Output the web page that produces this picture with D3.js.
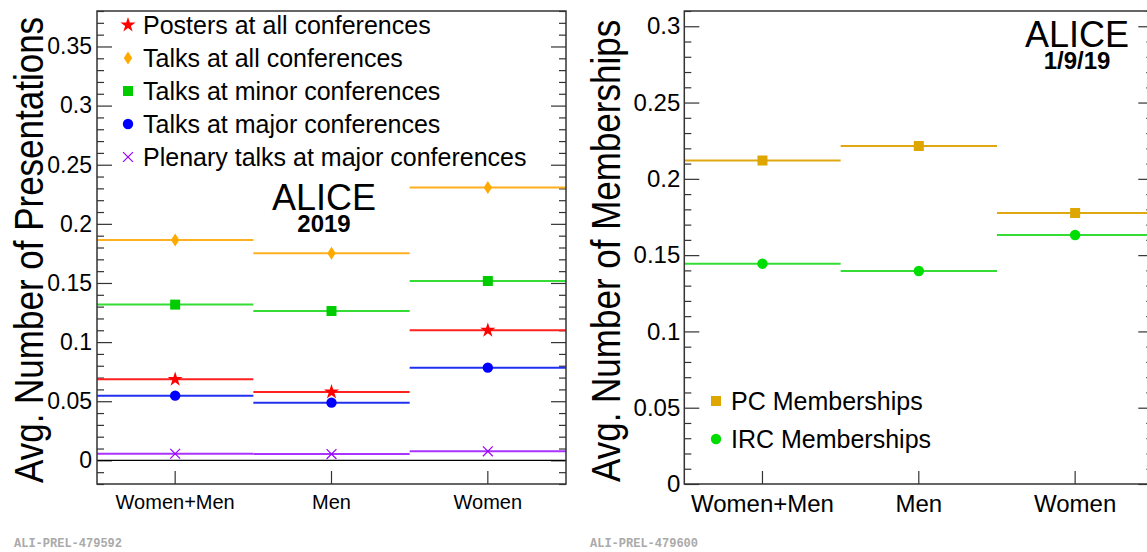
<!DOCTYPE html>
<html>
<head>
<meta charset="utf-8">
<script src="https://cdn.jsdelivr.net/npm/d3@7"></script>
<style>
  body { margin: 0; background: #fff; }
  svg { display: block; font-family: "Liberation Sans", Arial, sans-serif; }
  .frame { fill: none; stroke: #333; stroke-width: 1.5; }
  .axis path { display: none; }
  .axis line { stroke: #333; stroke-width: 1.2; }
  .axis text { fill: #000; font-family: "Liberation Sans", Arial, sans-serif; }
</style>
</head>
<body>
<div id="chart"></div>
<script>
// categories
const groups = ['Women+Men', 'Men', 'Women'];

// left panel: avg. number of presentations (2019)
const postersAll   = [0.0685, 0.0578, 0.1100];
const talksAll     = [0.1864, 0.1752, 0.2307];
const talksMinor   = [0.1317, 0.1263, 0.1517];
const talksMajor   = [0.0547, 0.0488, 0.0784];
const plenaryMajor = [0.0056, 0.0053, 0.0076];

// right panel: avg. number of memberships (1/9/19)
const pcMemberships  = [0.2120, 0.2216, 0.1776];
const ircMemberships = [0.1444, 0.1396, 0.1632];

// tick labels
const leftTicks  = [0, 0.05, 0.1, 0.15, 0.2, 0.25, 0.3, 0.35];
const rightTicks = [0, 0.05, 0.1, 0.15, 0.2, 0.25, 0.3];

const W = 1147, H = 552;
const svg = d3.select('#chart').append('svg')
  .attr('width', W).attr('height', H);
svg.append('rect').attr('width', W).attr('height', H).attr('fill', '#fff');

const fmt = d => String(+d.toFixed(2));

// symbol helpers
const sym = (type, size) => d3.symbol().type(type).size(size)();
const diamond = 'M0,-6.5L4.2,0L0,6.5L-4.2,0Z';

const leftSeries = [
  { name: 'Posters at all conferences', values: postersAll, line: '#ff2020', color: '#ff0000', shape: sym(d3.symbolStar, 70) },
  { name: 'Talks at all conferences', values: talksAll, line: '#ffb020', color: '#ffaa00', shape: diamond },
  { name: 'Talks at minor conferences', values: talksMinor, line: '#33dd33', color: '#00cc00', shape: sym(d3.symbolSquare, 100) },
  { name: 'Talks at major conferences', values: talksMajor, line: '#2030ee', color: '#0000ff', shape: sym(d3.symbolCircle, 85) },
  { name: 'Plenary talks at major conferences', values: plenaryMajor, line: '#aa33ff', color: '#9900ff', shape: sym(d3.symbolX, 65), stroke: true }
];

const rightSeries = [
  { name: 'PC Memberships', values: pcMemberships, line: '#e0a810', color: '#dda600', shape: sym(d3.symbolSquare, 100) },
  { name: 'IRC Memberships', values: ircMemberships, line: '#33dd33', color: '#00dd00', shape: sym(d3.symbolCircle, 85) }
];

function drawMarker(g, s, x, y) {
  const p = g.append('path').attr('d', s.shape)
    .attr('transform', 'translate(' + x + ',' + y + ')');
  if (s.stroke) p.attr('fill', 'none').attr('stroke', s.color).attr('stroke-width', 1.2);
  else p.attr('fill', s.color);
}

function drawPanel(opt) {
  const g = svg.append('g');
  const x = d3.scaleBand().domain(groups).range([opt.x0, opt.x1]).paddingInner(0).paddingOuter(0);
  const y = d3.scaleLinear().domain(opt.domain).range([opt.y1, opt.y0]);

  const clip = 'clip-' + opt.id;
  svg.append('clipPath').attr('id', clip)
    .append('rect').attr('x', opt.x0).attr('y', opt.y0)
    .attr('width', opt.x1 - opt.x0).attr('height', opt.y1 - opt.y0);

  // minor ticks every 0.01
  const minor = d3.range(Math.round(opt.domain[0] * 100), Math.round(opt.domain[1] * 100) + 1)
    .map(d => d / 100).filter(d => !opt.ticks.some(t => Math.abs(t - d) < 1e-9));

  g.append('g').attr('class', 'axis').attr('transform', 'translate(' + opt.x0 + ',0)')
    .call(d3.axisLeft(y).tickValues(minor).tickSize(-7).tickFormat(''));
  g.append('g').attr('class', 'axis').attr('transform', 'translate(' + opt.x1 + ',0)')
    .call(d3.axisRight(y).tickValues(minor).tickSize(-7).tickFormat(''));
  g.append('g').attr('class', 'axis').attr('transform', 'translate(' + opt.x1 + ',0)')
    .call(d3.axisRight(y).tickValues(opt.ticks).tickSize(-15).tickFormat(''));
  g.append('g').attr('class', 'axis').attr('transform', 'translate(' + opt.x0 + ',0)')
    .call(d3.axisLeft(y).tickValues(opt.ticks).tickSize(-15).tickPadding(opt.tickPad).tickFormat(fmt))
    .selectAll('text').style('font-size', opt.tickFont + 'px');

  // x axis
  g.append('g').attr('class', 'axis').attr('transform', 'translate(0,' + opt.y1 + ')')
    .call(d3.axisBottom(x).tickSize(-13).tickPadding(opt.xPad))
    .selectAll('text').style('font-size', opt.xFont + 'px');

  // zero line
  if (opt.domain[0] < 0) {
    g.append('line').attr('x1', opt.x0).attr('x2', opt.x1)
      .attr('y1', y(0)).attr('y2', y(0))
      .attr('stroke', '#000').attr('stroke-width', 1.2);
  }

  // series: horizontal bin lines + markers
  const marks = g.append('g').attr('clip-path', 'url(#' + clip + ')');
  opt.series.forEach(s => {
    s.values.forEach((v, i) => {
      marks.append('line')
        .attr('x1', x(groups[i])).attr('x2', x(groups[i]) + x.bandwidth())
        .attr('y1', y(v)).attr('y2', y(v))
        .attr('stroke', s.line).attr('stroke-width', 2);
    });
  });
  opt.series.forEach(s => {
    s.values.forEach((v, i) => drawMarker(marks, s, x(groups[i]) + x.bandwidth() / 2, y(v)));
  });

  // frame
  g.append('rect').attr('class', 'frame')
    .attr('x', opt.x0).attr('y', opt.y0)
    .attr('width', opt.x1 - opt.x0).attr('height', opt.y1 - opt.y0);

  // y title (a bit taller than wide, like the reference)
  g.append('text')
    .attr('transform', 'translate(' + opt.titleX + ',' + opt.titleY + ') rotate(-90) scale(1,1.15)')
    .style('font-size', opt.titleFont + 'px').text(opt.title);

  // legend
  opt.series.forEach((s, i) => {
    const ly = opt.legY + i * opt.legStep;
    drawMarker(g, s, opt.legX, ly);
    g.append('text').attr('x', opt.legX + 15).attr('y', ly + 8.5)
      .style('font-size', opt.legFont + 'px').text(s.name);
  });

  // ALICE label
  g.append('text').attr('x', opt.aliceX).attr('y', opt.aliceY)
    .attr('text-anchor', 'middle').style('font-size', '36px').text('ALICE');
  g.append('text').attr('x', opt.aliceX).attr('y', opt.aliceY + 22)
    .attr('text-anchor', 'middle').style('font-size', '24px').style('font-weight', 'bold')
    .text(opt.sub);

  // preliminary id
  svg.append('text').attr('x', opt.idX).attr('y', 547)
    .style('font-family', '"Liberation Mono", "DejaVu Sans Mono", monospace')
    .style('font-size', '12px').style('font-weight', 'bold').attr('fill', '#aaa')
    .text(opt.idText);
}

drawPanel({
  id: 'left', x0: 97, x1: 566, y0: 11, y1: 484, domain: [-0.02, 0.38], ticks: leftTicks,
  tickPad: 5, tickFont: 23, xPad: 11, xFont: 20,
  series: leftSeries,
  title: 'Avg. Number of Presentations', titleX: 43, titleY: 483, titleFont: 35,
  legX: 128, legY: 25, legStep: 33, legFont: 25,
  aliceX: 324, aliceY: 210, sub: '2019',
  idX: 14, idText: 'ALI-PREL-479592'
});

drawPanel({
  id: 'right', x0: 684.3, x1: 1153.3, y0: 11, y1: 484, domain: [0, 0.31], ticks: rightTicks,
  tickPad: 4, tickFont: 24, xPad: 11, xFont: 24,
  series: rightSeries,
  title: 'Avg. Number of Memberships', titleX: 620, titleY: 482, titleFont: 35,
  legX: 716, legY: 401, legStep: 38, legFont: 25,
  aliceX: 1077, aliceY: 47, sub: '1/9/19',
  idX: 590, idText: 'ALI-PREL-479600'
});
</script>
</body>
</html>
